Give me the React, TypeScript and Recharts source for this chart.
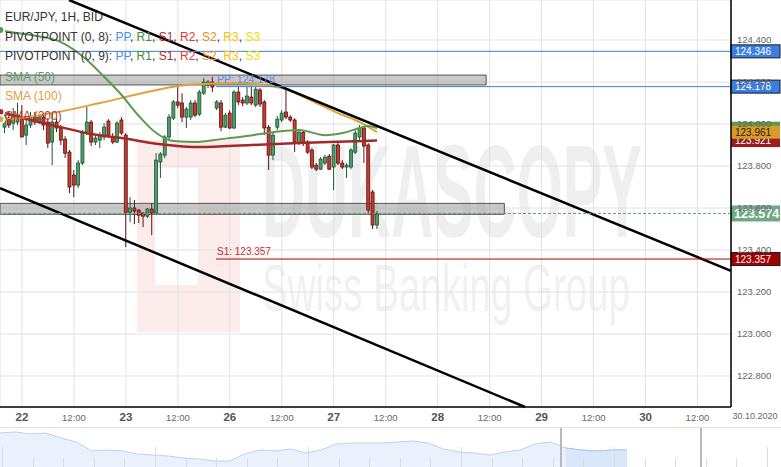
import React from "react";
import {
  Area,
  AreaChart,
  Bar,
  CartesianGrid,
  ComposedChart,
  Line,
  ReferenceArea,
  ReferenceLine,
  XAxis,
  YAxis
} from "recharts";

const FONT = "Arial, 'Liberation Sans', sans-serif";

// hourly candles, EUR/JPY 1H, from 21.10 20:00 (t = 0) to 27.10 ~10:00
const opens = [
  123.985, 124.028, 124.004, 124.009, 124.033, 123.947, 123.995, 124.033, 124.009, 124.033,
  124.009, 123.914, 124.009, 123.981, 123.928, 123.866, 123.757, 123.709, 123.814, 123.961,
  124.009, 123.914, 123.923, 123.938, 124.014, 123.938, 123.914, 124.019, 123.947, 123.58,
  123.6, 123.59, 123.576, 123.561, 123.595, 123.576, 123.819, 123.852, 123.938, 124.028,
  124.105, 124.1, 124.033, 124.033, 124.1, 124.047, 124.147, 124.185, 124.2, 124.076,
  124.1, 123.985, 124.052, 123.981, 124.152, 124.114, 124.1, 124.128, 124.09, 124.162,
  124.105, 123.985, 123.852, 123.985, 124.019, 124.057, 124.033, 124.019, 123.909, 123.961,
  123.914, 123.876, 123.804, 123.785, 123.814, 123.847, 123.795, 123.9, 123.814, 123.795,
  123.795, 123.866, 123.938, 123.981, 123.9, 123.676, 123.519
];
const highs = [
  124.066, 124.057, 124.076, 124.1, 124.09, 124.019, 124.057, 124.057, 124.047, 124.052,
  124.028, 124.052, 124.028, 123.995, 123.942, 123.876, 123.781, 123.828, 123.971, 124.081,
  124.019, 123.947, 123.961, 124.004, 124.023, 123.957, 124.014, 124.033, 123.957, 123.652,
  123.638, 123.595, 123.58, 123.6, 123.623, 123.861, 123.866, 123.947, 124.047, 124.114,
  124.185, 124.147, 124.081, 124.114, 124.114, 124.162, 124.219, 124.209, 124.224, 124.114,
  124.114, 124.052, 124.066, 124.162, 124.176, 124.128, 124.176, 124.176, 124.176, 124.171,
  124.114, 123.995, 123.957, 124.038, 124.066, 124.162, 124.042, 124.028, 123.971, 123.971,
  123.923, 123.885, 123.814, 123.842, 123.852, 123.857, 123.904, 123.909, 123.828, 123.814,
  123.885, 123.971, 123.995, 123.99, 123.909, 123.685, 123.585
];
const lows = [
  123.957, 123.981, 123.971, 123.995, 123.938, 123.9, 123.981, 123.995, 124.0, 123.971,
  123.885, 123.804, 123.961, 123.9, 123.838, 123.671, 123.652, 123.695, 123.804, 123.947,
  123.895, 123.9, 123.885, 123.923, 123.933, 123.904, 123.909, 123.947, 123.414, 123.533,
  123.523, 123.528, 123.509, 123.552, 123.471, 123.571, 123.743, 123.838, 123.923, 124.019,
  124.076, 124.009, 123.981, 124.019, 124.033, 124.038, 124.138, 124.171, 124.152, 124.066,
  123.966, 123.981, 123.976, 123.976, 124.09, 124.085, 124.09, 124.09, 124.081, 124.081,
  123.947, 123.781, 123.828, 123.971, 124.009, 124.023, 124.009, 123.866, 123.9, 123.895,
  123.857, 123.785, 123.776, 123.781, 123.804, 123.781, 123.685, 123.804, 123.785, 123.743,
  123.785, 123.857, 123.923, 123.814, 123.576, 123.5, 123.5
];
const closes = [
  124.042, 123.995, 124.033, 124.042, 123.938, 123.995, 124.033, 124.009, 124.033, 123.995,
  123.909, 124.009, 123.981, 123.923, 123.861, 123.7, 123.709, 123.814, 123.961, 124.009,
  123.914, 123.933, 123.947, 123.985, 123.947, 123.914, 124.004, 123.957, 123.58, 123.6,
  123.585, 123.566, 123.561, 123.595, 123.576, 123.828, 123.857, 123.938, 124.033, 124.105,
  124.09, 124.033, 124.071, 124.1, 124.042, 124.152, 124.2, 124.2, 124.176, 124.105,
  123.985, 124.042, 123.981, 124.152, 124.105, 124.1, 124.133, 124.1, 124.166, 124.095,
  123.981, 123.852, 123.947, 124.023, 124.052, 124.033, 124.019, 123.914, 123.961, 123.909,
  123.866, 123.795, 123.785, 123.833, 123.842, 123.785, 123.9, 123.814, 123.795, 123.804,
  123.876, 123.957, 123.981, 123.895, 123.59, 123.519, 123.571
];

// moving averages, read at a few hours and joined by the line
const sma50Hours = [-1, 0, 6, 13, 19, 23, 27, 31, 35, 39, 44, 50, 56, 62, 68, 74, 78, 82, 84, 86];
const sma50Values = [
  124.448, 124.443, 124.424, 124.39, 124.305, 124.224, 124.138, 124.038, 123.957, 123.919,
  123.914, 123.928, 123.943, 123.961, 123.971, 123.947, 123.957, 123.981, 123.99, 123.98
];
const sma100Hours = [-1, 0, 11, 22, 33, 40, 46, 54, 64, 70, 77, 82, 86];
const sma100Values = [
  124.023, 124.023, 124.052, 124.1, 124.152, 124.181, 124.19, 124.195, 124.171, 124.119,
  124.052, 124.009, 123.961
];
const sma200Hours = [-1, 0, 6, 13, 20, 27, 36, 45, 57, 68, 75, 86];
const sma200Values = [
  124.057, 124.052, 124.019, 123.985, 123.952, 123.933, 123.904, 123.89, 123.9, 123.909,
  123.914, 123.921
];

const timeTicks = [4, 16, 28, 40, 52, 64, 76, 88, 100, 112, 124, 136, 148, 160];
const timeLabels = ["22", "12:00", "23", "12:00", "26", "12:00", "27", "12:00", "28", "12:00", "29", "12:00", "30", "12:00"];
const priceTicks = [122.8, 123.0, 123.2, 123.4, 123.6, 123.8, 124.0, 124.2, 124.4];

const X_DOMAIN = [-1.08, 167.74];
const Y_DOMAIN = [122.6524, 124.5905];

const pivotPrevPP = 124.346;
const pivotPP = 124.178;
const pivotS1 = 123.357;
const pivotStart = 48.8;
const lastPrice = 123.574;
const sma50Last = 123.98;
const sma100Last = 123.961;
const sma200Last = 123.921;

const zoneTop = { x1: -1.08, x2: 111.2, y1: 124.186, y2: 124.233 };
const zoneBottom = { x1: -1.08, x2: 115.4, y1: 123.57, y2: 123.622 };
const channelUpper = [{ x: 14.85, y: 124.5905 }, { x: 167.74, y: 123.301 }];
const channelLower = [{ x: -1.08, y: 123.695 }, { x: 120.17, y: 122.6524 }];

// overview strip at the bottom
const navPrices = [
  124.2, 124.25, 124.15, 124.2, 123.95, 123.75, 123.3, 123.35, 123.3, 123.15,
  123.1, 123.05, 122.95, 122.9, 122.8, 122.8, 123.15, 123.35, 123.3, 123.4,
  123.2, 123.35, 123.65, 123.7, 123.7, 123.7, 123.75, 123.8, 123.7, 123.4,
  123.25, 123.2, 123.1, 123.25, 123.35, 123.65, 123.75, 123.45, 123.35, 123.3,
  123.35, 123.35
];
const navSelectedFrom = 37;

const rows: any[] = [{ t: -1 }];
opens.forEach((o, i) => {
  rows.push({
    t: i,
    open: o,
    high: highs[i],
    low: lows[i],
    close: closes[i],
    range: [lows[i], highs[i]]
  });
});
const putSeries = (key: string, hours: number[], values: number[]) => {
  hours.forEach((h, i) => {
    const row = rows.find((r) => r.t === h);
    if (row) row[key] = values[i];
  });
};
putSeries("sma50", sma50Hours, sma50Values);
putSeries("sma100", sma100Hours, sma100Values);
putSeries("sma200", sma200Hours, sma200Values);

const navData = navPrices.map((p, i) => ({
  i,
  price: p,
  sel: i >= navSelectedFrom ? p : null
}));

function Candle(props: any) {
  const { x, y, width, height, payload } = props;
  if (!payload || payload.open == null) return null;
  const top = Math.min(y, y + height);
  const h = Math.abs(height);
  const k = h / (payload.high - payload.low || 1e-9);
  const yOpen = top + (payload.high - payload.open) * k;
  const yClose = top + (payload.high - payload.close) * k;
  const up = payload.close >= payload.open;
  const edge = up ? "#1d5533" : "#5a1510";
  const cx = x + width / 2;
  return (
    <g>
      <line x1={cx} x2={cx} y1={top} y2={top + h} stroke={edge} strokeWidth={1} />
      <rect
        x={cx - 1.5}
        y={Math.min(yOpen, yClose)}
        width={3}
        height={Math.max(1, Math.abs(yClose - yOpen))}
        fill={up ? "#4e9c6c" : "#c53b2f"}
        stroke={edge}
        strokeWidth={0.8}
      />
    </g>
  );
}

function priceTag(opts: {
  text: string;
  fill: string;
  color: string;
  big?: boolean;
  border?: boolean;
  note?: string;
  noteColor?: string;
  noteSize?: number;
}) {
  return (props: any) => {
    const vb = props.viewBox ?? props;
    const right = vb.x + vb.width;
    const y = vb.y;
    const h = opts.big ? 16 : 13;
    return (
      <g>
        {opts.note ? (
          <text x={vb.x + 1} y={y - 4} fill={opts.noteColor} fontSize={opts.noteSize ?? 10.5} fontFamily={FONT}>
            {opts.note}
          </text>
        ) : null}
        <rect
          x={right}
          y={y - h / 2}
          width={49}
          height={h}
          fill={opts.fill}
          stroke={opts.border ? "#1a1a1a" : "none"}
          strokeWidth={1}
        />
        <text
          x={right + (opts.big ? 3 : 4)}
          y={y}
          dy="0.36em"
          fill={opts.color}
          fontSize={opts.big ? 12.5 : 10}
          fontWeight={opts.big ? 700 : 400}
          fontFamily={FONT}
        >
          {opts.text}
        </text>
      </g>
    );
  };
}

function TimeTick(props: any) {
  const { x, y, payload } = props;
  const idx = timeTicks.indexOf(payload.value);
  const label = timeLabels[idx] ?? "";
  const day = !label.includes(":");
  return (
    <text
      x={x}
      y={y + (day ? 14 : 13.5)}
      textAnchor="middle"
      fill={day ? "#555" : "#666"}
      fontSize={day ? 11.5 : 9.5}
      fontWeight={day ? 700 : 400}
      fontFamily={FONT}
    >
      {label}
    </text>
  );
}

function PriceTick(props: any) {
  const { x, y, payload } = props;
  return (
    <text x={x + 6} y={y} dy="0.36em" fill="#666" fontSize={9.5} fontFamily={FONT}>
      {Number(payload.value).toFixed(3)}
    </text>
  );
}

const legendRow = (top: number, children: React.ReactNode) => (
  <div
    style={{
      position: "absolute",
      left: 5,
      top,
      fontSize: 12,
      lineHeight: "14px",
      fontFamily: FONT,
      color: "#333",
      whiteSpace: "nowrap"
    }}
  >
    {children}
  </div>
);

const pivotNames = [
  ["PP", "#4b8fe6"],
  ["R1", "#3f8a3f"],
  ["S1", "#b52a2a"],
  ["R2", "#e53935"],
  ["S2", "#f28a1e"],
  ["R3", "#ffbf00"],
  ["S3", "#f0e000"]
];

function PivotLegend({ label }: { label: string }) {
  return (
    <>
      {label}
      {pivotNames.map(([n, c], i) => (
        <span key={n}>
          <span style={{ color: c }}>{n}</span>
          {i < pivotNames.length - 1 ? ", " : ""}
        </span>
      ))}
    </>
  );
}

// faint scale marks along the overview strip
const navMarks = Array.from({ length: 26 }, (_, n) => n);

export default function App() {
  return (
    <div style={{ position: "absolute", left: 0, top: 0, width: 781, height: 467, background: "#fff", overflow: "hidden" }}>
      {/* watermark */}
      <svg width={781} height={407} style={{ position: "absolute", left: 0, top: 0 }}>
        <rect x={137} y={140} width={103} height={192} fill="#fcebeb" />
        <rect x={155} y={168} width={43} height={117} fill="#fff" />
        <text
          x={262}
          y={237}
          fontSize={131}
          fontWeight={700}
          fill="#efefef"
          fontFamily={FONT}
          textLength={380}
          lengthAdjust="spacingAndGlyphs"
        >
          DUKASCOPY
        </text>
        <text
          x={262}
          y={311}
          fontSize={66}
          fill="#f1f1f1"
          fontFamily={FONT}
          textLength={368}
          lengthAdjust="spacingAndGlyphs"
        >
          Swiss Banking Group
        </text>
      </svg>

      <div style={{ position: "absolute", left: 0, top: 0 }}>
        <ComposedChart width={781} height={427} data={rows} margin={{ top: 0, right: 0, bottom: 0, left: 0 }}>
          <CartesianGrid stroke="#e2e2e2" strokeWidth={1} />
          <XAxis
            type="number"
            dataKey="t"
            domain={X_DOMAIN}
            allowDataOverflow
            ticks={timeTicks}
            tick={<TimeTick />}
            tickLine={false}
            tickSize={0}
            tickMargin={0}
            height={20}
            axisLine={{ stroke: "#000", strokeWidth: 1.5 }}
          />
          <YAxis
            orientation="right"
            domain={Y_DOMAIN}
            allowDataOverflow
            ticks={priceTicks}
            tick={<PriceTick />}
            tickLine={false}
            tickSize={0}
            tickMargin={0}
            width={50}
            axisLine={{ stroke: "#000", strokeWidth: 1.5 }}
          />
          <ReferenceArea {...zoneTop} fill="#9c9c9c" fillOpacity={0.55} stroke="#555" strokeWidth={1} ifOverflow="visible" />
          <ReferenceArea {...zoneBottom} fill="#9c9c9c" fillOpacity={0.55} stroke="#555" strokeWidth={1} ifOverflow="visible" />
          <Bar dataKey="range" barSize={4} shape={<Candle />} isAnimationActive={false} />
          <Line dataKey="sma200" type="monotone" stroke="#a52828" strokeWidth={2.5} dot={false} connectNulls isAnimationActive={false} />
          <Line dataKey="sma100" type="monotone" stroke="#e0a23a" strokeWidth={2} dot={false} connectNulls isAnimationActive={false} />
          <Line dataKey="sma50" type="monotone" stroke="#5c9a4e" strokeWidth={2} dot={false} connectNulls isAnimationActive={false} />
          <ReferenceLine segment={channelUpper} stroke="#000" strokeWidth={2.5} ifOverflow="visible" />
          <ReferenceLine segment={channelLower} stroke="#000" strokeWidth={2.5} ifOverflow="visible" />
          <ReferenceLine
            y={pivotPrevPP}
            stroke="#3b7fe3"
            strokeWidth={1}
            label={priceTag({ text: "124.346", fill: "#3b7fe3", color: "#fff", border: true })}
          />
          <ReferenceLine
            segment={[{ x: pivotStart, y: pivotPP }, { x: X_DOMAIN[1], y: pivotPP }]}
            stroke="#3b7fe3"
            strokeWidth={1}
            ifOverflow="visible"
            label={priceTag({
              text: "124.178",
              fill: "#3b7fe3",
              color: "#fff",
              border: true,
              note: "PP: 124.178",
              noteColor: "#5b8fd6",
              noteSize: 10.5
            })}
          />
          <ReferenceLine
            y={lastPrice}
            stroke="#5fa478"
            strokeDasharray="3 2"
            strokeWidth={1}
            label={priceTag({ text: "123.574", fill: "#6ea985", color: "#fff", big: true })}
          />
          <ReferenceLine
            segment={[{ x: pivotStart, y: pivotS1 }, { x: X_DOMAIN[1], y: pivotS1 }]}
            stroke="#b00000"
            strokeWidth={1}
            ifOverflow="visible"
            label={priceTag({
              text: "123.357",
              fill: "#a00000",
              color: "#fff",
              border: true,
              note: "S1: 123.357",
              noteColor: "#c43030",
              noteSize: 10
            })}
          />
          <ReferenceLine y={sma50Last} stroke="none" label={priceTag({ text: "", fill: "#5c9a4e", color: "#fff" })} />
          <ReferenceLine y={sma200Last} stroke="none" label={priceTag({ text: "123.921", fill: "#9b1d1d", color: "#fff" })} />
          <ReferenceLine y={sma100Last} stroke="none" label={priceTag({ text: "123.961", fill: "#d89b2b", color: "#2a1d00" })} />
        </ComposedChart>
      </div>

      {legendRow(10, "EUR/JPY, 1H, BID")}
      {legendRow(30, <PivotLegend label="PIVOTPOINT (0, 8): " />)}
      {legendRow(49, <PivotLegend label="PIVOTPOINT (0, 9): " />)}
      {legendRow(70, <span style={{ color: "#5c9a5c" }}>SMA (50)</span>)}
      {legendRow(89, <span style={{ color: "#e0a040" }}>SMA (100)</span>)}
      {legendRow(109, <span style={{ color: "#b03a3a" }}>SMA (200)</span>)}

      <div
        style={{
          position: "absolute",
          left: 731,
          top: 411,
          width: 48,
          textAlign: "center",
          fontSize: 9,
          color: "#666",
          fontFamily: FONT,
          whiteSpace: "nowrap"
        }}
      >
        30.10.2020
      </div>

      {/* overview strip */}
      <div style={{ position: "absolute", left: 0, top: 427, width: 781, height: 1, background: "#e2e2e2" }} />
      <div style={{ position: "absolute", left: 0, top: 428 }}>
        <AreaChart width={627} height={39} data={navData} margin={{ top: 0, right: 0, bottom: 0, left: 0 }}>
          <XAxis type="number" dataKey="i" domain={[0, navPrices.length - 1]} hide />
          <YAxis domain={[122.5, 124.45]} hide />
          <Area dataKey="price" type="linear" stroke="#bcd2f3" strokeWidth={1} fill="#eaf1fc" fillOpacity={1} isAnimationActive={false} />
          <Area dataKey="sel" type="linear" stroke="#a9c5f0" strokeWidth={1} fill="#dae6fa" fillOpacity={1} isAnimationActive={false} />
        </AreaChart>
      </div>
      {navMarks.map((n) => (
        <div
          key={n}
          style={{
            position: "absolute",
            left: 2 + n * 30.6,
            top: n % 5 === 0 ? 447 : 458,
            width: 1,
            height: n % 5 === 0 ? 20 : 9,
            background: "#dcdcdc"
          }}
        />
      ))}
      <div style={{ position: "absolute", left: 560, top: 428, width: 2, height: 39, background: "#b8b8b8" }} />
      <div style={{ position: "absolute", left: 700, top: 428, width: 2, height: 39, background: "#b8b8b8" }} />
    </div>
  );
}
